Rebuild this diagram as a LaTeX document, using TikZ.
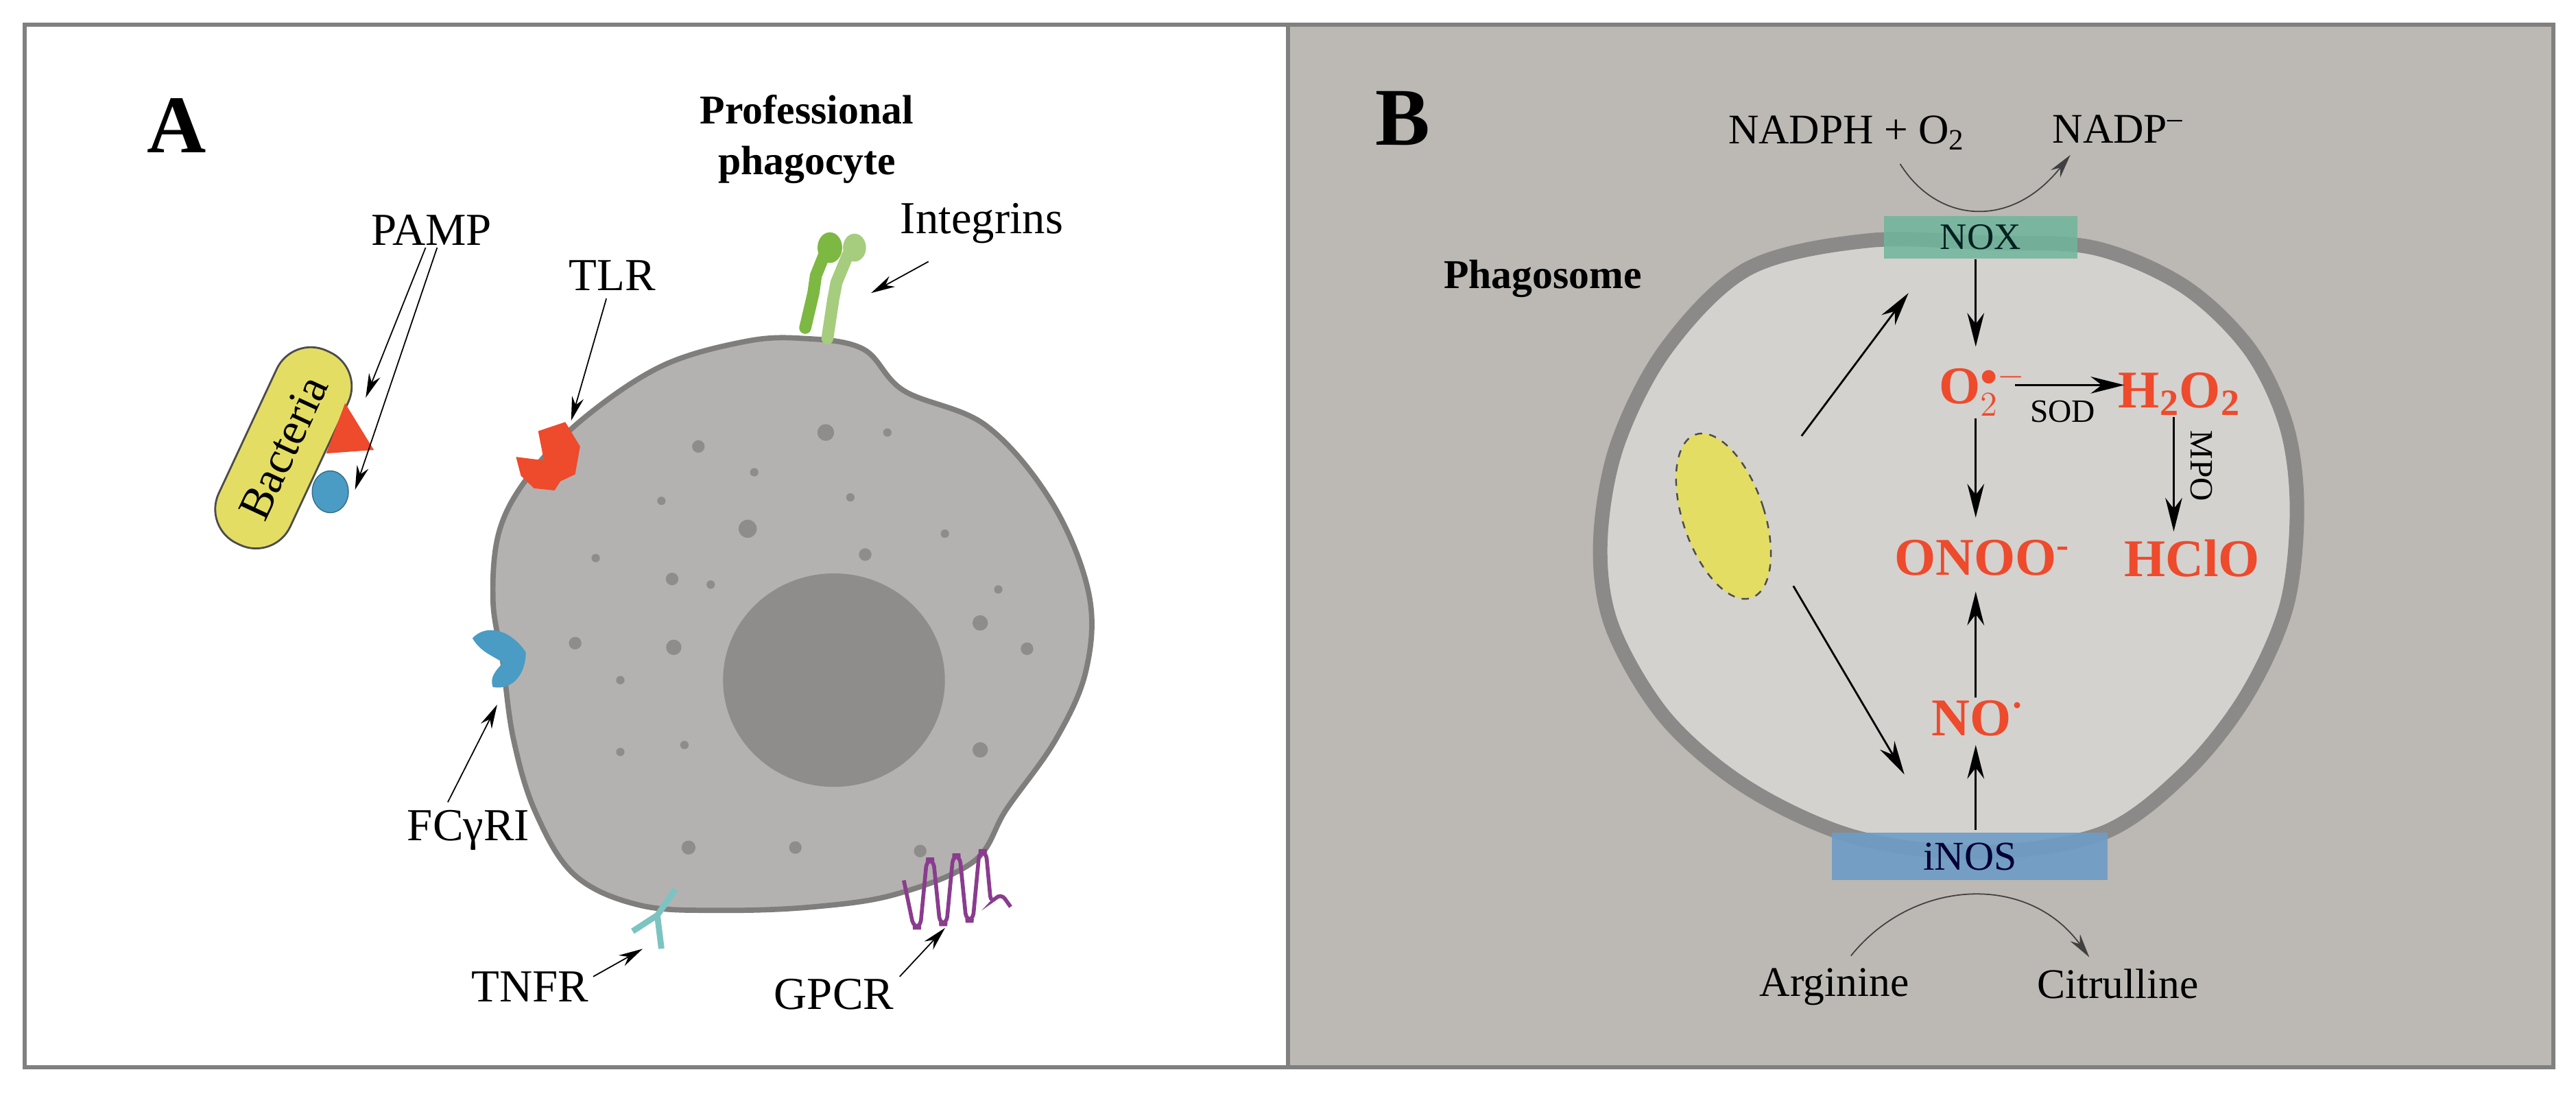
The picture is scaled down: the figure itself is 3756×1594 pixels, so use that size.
\documentclass[tikz,border=0pt]{standalone}
\usepackage{fontspec}
\setmainfont{Liberation Serif}
\usetikzlibrary{arrows.meta}
\definecolor{bgB}{HTML}{BCB8B3}
\definecolor{phago}{HTML}{D3D2CF}
\definecolor{memb}{HTML}{8C8A88}
\definecolor{cellf}{HTML}{B4B2B0}
\definecolor{cells}{HTML}{7F7E7C}
\definecolor{nucl}{HTML}{8E8D8B}
\definecolor{ros}{HTML}{EE4A2C}
\definecolor{noxc}{HTML}{6FB59C}
\definecolor{inosc}{HTML}{6E9CC6}
\definecolor{bact}{HTML}{E4DD64}
\definecolor{intA}{HTML}{7DB843}
\definecolor{intB}{HTML}{A6CC7E}
\definecolor{tnfc}{HTML}{7CC4C2}
\definecolor{gpc}{HTML}{8A3C8E}
\definecolor{fcc}{HTML}{4A9CC4}
\tikzset{
 lab/.style={font=\fontsize{19}{22}\selectfont},
 labB/.style={font=\fontsize{17.5}{20}\selectfont},
 big/.style={font=\fontsize{34}{38}\selectfont\bfseries},
 bold/.style={font=\fontsize{17}{21}\selectfont\bfseries, align=center},
 rosl/.style={font=\fontsize{22}{24}\selectfont\bfseries, text=ros},
 thin arrow/.style={-{Stealth[length=14pt,width=7pt]}, line width=0.8pt},
 fine arrow/.style={-{Stealth[length=10pt,width=5pt]}, line width=0.5pt}
}
\begin{document}
\begin{tikzpicture}[x=0.1mm,y=-0.1mm]
\useasboundingbox (0,0) rectangle (3756,1594);
\fill[white] (0,0) rectangle (3756,1594);
\draw[line width=1.5pt, draw=gray] (36,36) rectangle (1878,1556);
\fill[bgB] (1878,36) rectangle (3723,1556);
\draw[line width=1.5pt, draw=gray] (1878,36) rectangle (3723,1556);

% ================= Panel A =================
\begin{scope}[xscale=1.198,yscale=1.017]
\node[big] (A) at (215,180) {A};
\node[bold] (prof) at (982,200) {Professional\\phagocyte};
\draw[fill=cellf, draw=cells, line width=2.2pt]
 plot[smooth cycle, tension=0.6] coordinates {(975,485) (1050,500) (1100,560) (1200,610) (1280,720) (1325,850) (1322,960) (1285,1060) (1225,1160) (1185,1235) (1090,1282) (990,1300) (880,1305) (780,1298) (700,1255) (652,1165) (625,1060) (612,950) (600,860) (608,760) (645,680) (710,600) (805,525) (905,490)};
\fill[nucl] (1015,975) ellipse (135 and 153);
\foreach \x/\y/\r in {1005/620/12,1080/620/6,850/640/9,918/677/6,805/718/6,1035/713/6,910/758/13,1150/765/6,725/800/6,1053/795/9,818/830/9,865/838/6,1215/845/6,1193/893/11,700/922/9,820/928/11,1250/930/9,755/975/6,833/1068/6,755/1078/6,1193/1075/11,838/1215/10,968/1215/9,1120/1220/9}
  \fill[nucl] (\x,\y) ellipse ({\r*0.85} and \r);
\node[lab, fill=bact, draw=black!70, line width=0.8pt, rounded corners=5.5mm, minimum width=31mm, minimum height=11.5mm, rotate=65] (bact) at (345,642) {Bacteria};
\fill[ros] (420,578) -- (455,645) -- (397,650) -- cycle;
\draw[fill=fcc, draw=fcc!70!black] (402,705) ellipse (22 and 30);
\coordinate (pampT) at (445,570);
\coordinate (pampC) at (432,702);
\node[lab] (pamp) at (525,330) {PAMP};
\draw[fine arrow] (518,355) -- (pampT);
\draw[fine arrow] (532,355) -- (pampC);
\fill[ros] (628,655) -- (662,660) -- (655,618) -- (688,605) -- (706,640) -- (700,680) -- (682,690) -- (675,703) -- (650,700) -- (634,682) -- cycle;
\coordinate (tlr) at (695,603);
\node[lab] (tlrl) at (745,395) {TLR};
\draw[fine arrow] (738,428) -- (tlr);
\fill[fcc] (575,915) .. controls (590,895) and (620,900) .. (640,935) .. controls (640,965) and (625,990) .. (600,985) .. controls (595,970) and (605,960) .. (612,950) .. controls (600,940) and (585,935) .. cycle;
\coordinate (fcg) at (605,1010);
\node[lab] (fcgl) at (570,1190) {FCγRI};
\draw[fine arrow] (545,1150) -- (fcg);
\draw[intA, line width=5pt, line cap=round] (980,470) -- (990,420) -- (993,395) -- (1005,360);
\draw[intB, line width=5pt, line cap=round] (1007,485) -- (1014,430) -- (1018,405) -- (1032,365);
\fill[intA] (1010,355) ellipse (15 and 22);
\fill[intB] (1040,355) ellipse (14 and 20);
\coordinate (integ) at (1060,420);
\node[lab] (integl) at (1195,320) {Integrins};
\draw[fine arrow] (1130,375) -- (integ);
\draw[tnfc, line width=2.5pt] (770,1335) -- (800,1312) -- (822,1275);
\draw[tnfc, line width=2.5pt] (800,1312) -- (805,1360);
\coordinate (tnfr) at (782,1360);
\node[lab] (tnfrl) at (645,1415) {TNFR};
\draw[fine arrow] (722,1400) -- (tnfr);
\draw[gpc, line width=1.6pt, rounded corners=3pt]
  (1100,1262) -- (1112,1330) -- (1120,1330) -- (1128,1232) -- (1136,1232) -- (1144,1325) -- (1152,1325) -- (1160,1226) -- (1168,1226) -- (1176,1320) -- (1184,1320) -- (1192,1220) -- (1200,1220) -- (1206,1295) -- (1218,1280) -- (1230,1300);
\coordinate (gpcr) at (1150,1330);
\node[lab] (gpcrl) at (1015,1425) {GPCR};
\draw[fine arrow] (1095,1400) -- (gpcr);
\end{scope}

% ================= Panel B =================
\begin{scope}[shift={(1878,0)}, xscale=1.198,yscale=1.017]
\node[big] (B) at (140,170) {B};
\draw[fill=phago, draw=memb, line width=6pt]
 plot[smooth cycle, tension=0.55] coordinates {(705,345) (850,348) (980,355) (1090,410) (1170,500) (1215,610) (1228,730) (1215,870) (1165,1000) (1090,1110) (990,1195) (840,1222) (690,1200) (560,1130) (460,1030) (395,900) (380,780) (400,640) (460,500) (560,385)};
\node[bold] (phl) at (310,400) {Phagosome};
\node[fill=noxc, fill opacity=0.85, minimum width=28.2mm, minimum height=6.2mm, inner sep=0pt] (nox) at (843,340) {};
\node[font=\fontsize{15.5}{18}\selectfont, text=black!75!teal] (noxt) at (843,340) {NOX};
\node[fill=inosc, fill opacity=0.9, minimum width=40.2mm, minimum height=6.9mm, inner sep=0pt] (inos) at (830,1228) {};
\node[font=\fontsize{17}{20}\selectfont, text=black!80!blue] (inost) at (830,1228) {iNOS};
\node[labB] (nadph) at (680,190) {NADPH + O\textsubscript{2}};
\node[labB] (nadp) at (1010,185) {NADP\textsuperscript{–}};
\coordinate (nadpend) at (952,222);
\draw[fine arrow, draw=black!75] (745,235) .. controls (790,320) and (880,330) .. (nadpend);
\node[labB] (arg) at (665,1415) {Arginine};
\node[labB] (cit) at (1010,1410) {Citrulline};
\coordinate (argst) at (685,1370);
\coordinate (citend) at (975,1372);
\draw[fine arrow, draw=black!75] (argst) .. controls (760,1260) and (900,1250) .. (citend);
\node[rosl] (o2) at (845,560) {O$_2^{\bullet-}$};
\node[rosl] (h2o2) at (1085,565) {H\textsubscript{2}O\textsubscript{2}};
\node[rosl] (onoo) at (845,800) {ONOO\textsuperscript{-}};
\node[rosl] (hclo) at (1100,800) {HClO};
\node[rosl] (no) at (840,1030) {NO\textsuperscript{·}};
\draw[thin arrow] (837,372) -- (837,497);
\draw[thin arrow] (837,600) -- (837,742);
\draw[thin arrow] (837,1000) -- (837,848);
\draw[thin arrow] (837,1190) -- (837,1068);
\draw[thin arrow] (885,552) -- (1018,552);
\node[font=\fontsize{13.5}{16}\selectfont] (sod) at (943,590) {SOD};
\draw[thin arrow] (1078,598) -- (1078,762);
\node[font=\fontsize{13.5}{16}\selectfont, rotate=-90] (mpo) at (1112,668) {MPO};
\draw[fill=bact, draw=black!70, dashed, line width=0.7pt, rotate around={15:(530,740)}] (530,740) ellipse (50 and 122);
\coordinate (bnox) at (755,420);
\coordinate (binos) at (750,1110);
\draw[thin arrow] (625,625) -- (bnox);
\draw[thin arrow] (615,840) -- (binos);
\end{scope}
\end{tikzpicture}
\end{document}
